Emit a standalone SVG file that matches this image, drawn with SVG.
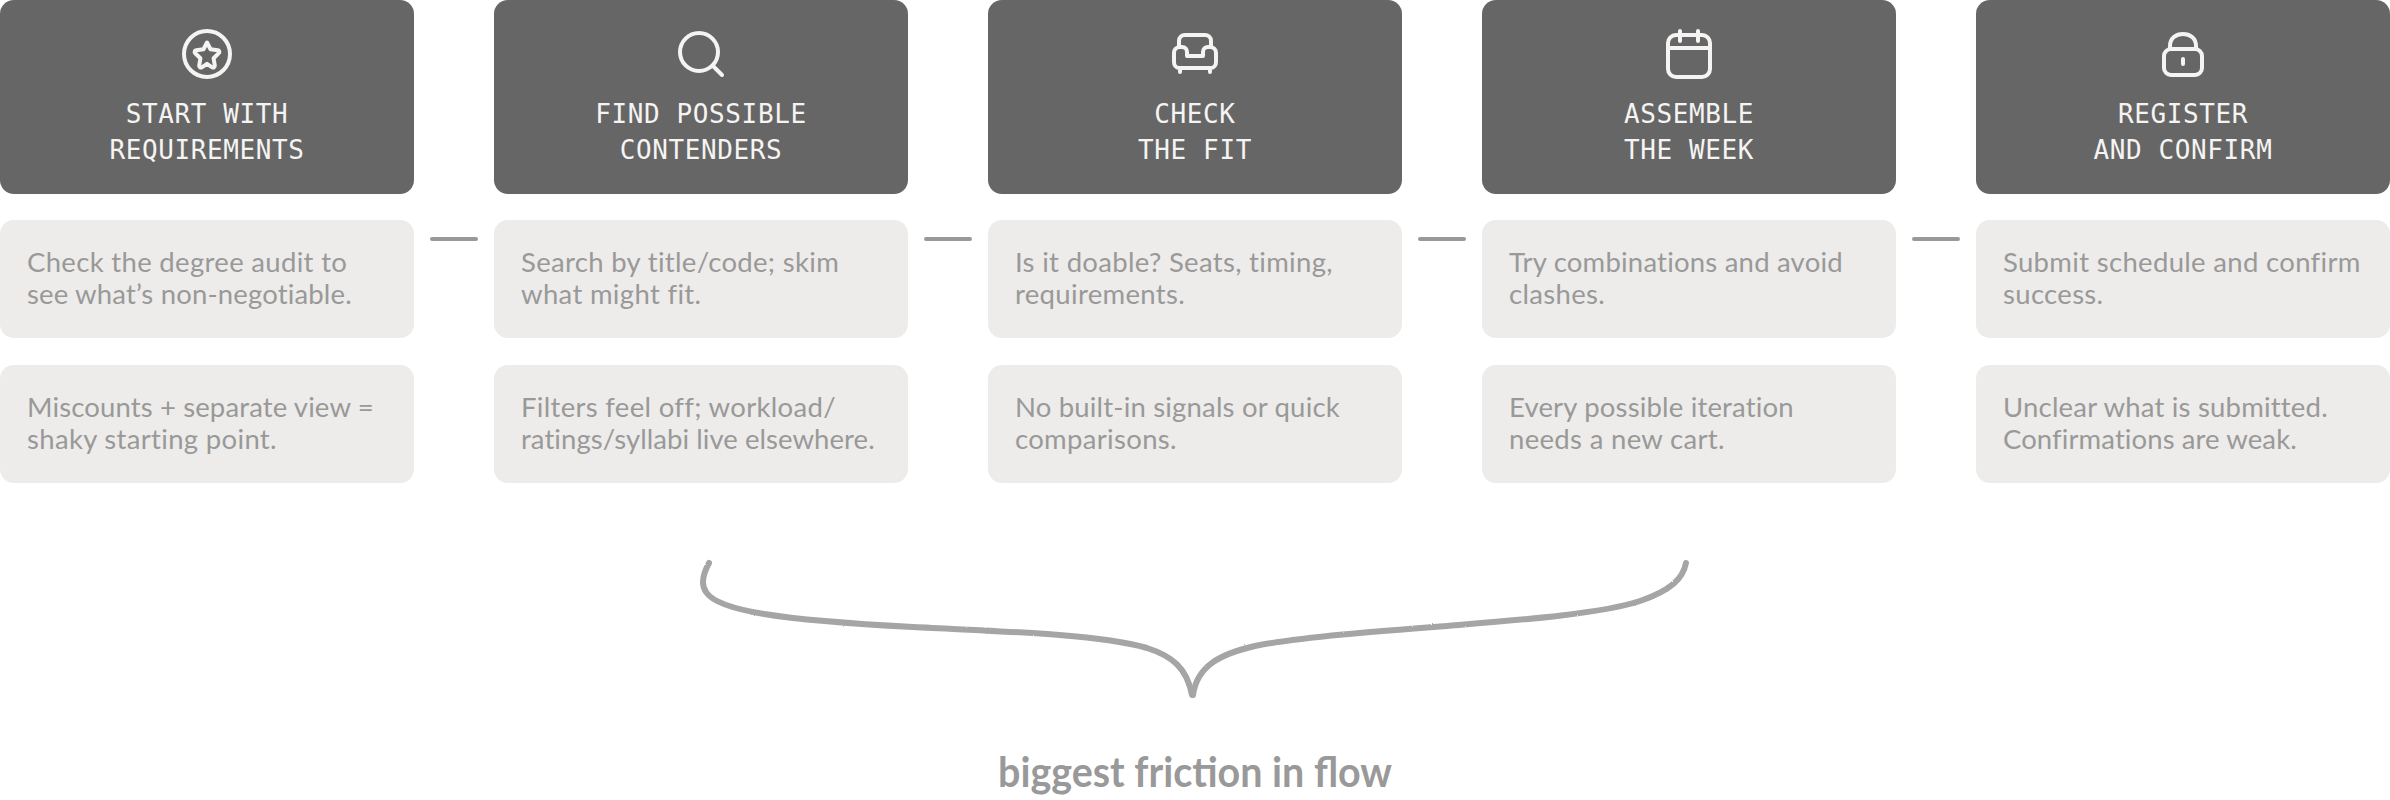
<svg xmlns="http://www.w3.org/2000/svg" width="2390" height="800" viewBox="0 0 2390 800">
<defs><filter id="rough" x="-5%" y="-10%" width="110%" height="120%"><feTurbulence type="fractalNoise" baseFrequency="0.9" numOctaves="2" seed="3"/><feDisplacementMap in="SourceGraphic" scale="1.6"/></filter></defs>
<style>
.h{fill:#666}
.c{fill:#edecea}
.t{font-family:"DejaVu Sans Mono",monospace;font-size:26px;letter-spacing:.6px;fill:#f5f4f2;text-anchor:middle}
.b{font-family:Lato,"Noto Sans",sans-serif;font-size:27.5px;letter-spacing:.32px;fill:#999}
.i{fill:none;stroke:#f5f4f2;stroke-width:4;stroke-linecap:round;stroke-linejoin:round}
.d{fill:none;stroke:#999;stroke-width:4;stroke-linecap:round}
.br{fill:none;stroke:#a5a5a5;stroke-width:6;stroke-linecap:round;stroke-linejoin:round;filter:url(#rough)}
.w{font-family:Lato,sans-serif;font-weight:700;font-size:42px;fill:#999;text-anchor:middle}
</style>
<g id="connectors">
<path class="d" d="M432 239H476"/><path class="d" d="M926 239H970"/><path class="d" d="M1420 239H1464"/><path class="d" d="M1914 239H1958"/>
</g>
<g id="step1">
<rect class="h" width="414" height="194" rx="14"/>
<circle class="i" cx="207" cy="54" r="23"/>
<path class="i" d="M207 42.500L210.500 49.200L217.800 50.300C219.500 50.600 219.800 52.200 218.800 53.200L213.600 58.300L214.800 65.500C215 67.200 213.500 68 212.200 67.300L207 63.900L201.800 67.300C200.500 68 199 67.200 199.200 65.500L200.400 58.300L195.200 53.200C194.200 52.200 194.500 50.600 196.200 50.300L203.500 49.200Z"/>
<text class="t" x="207" y="123">START WITH</text><text class="t" x="207" y="159">REQUIREMENTS</text>
<rect class="c" y="220" width="414" height="118" rx="14"/>
<text class="b" x="27" y="272">Check the degree audit to</text><text class="b" x="27" y="304" textLength="325">see what’s non-negotiable.</text>
<rect class="c" y="365" width="414" height="118" rx="14"/>
<text class="b" x="27" y="417" textLength="347">Miscounts + separate view =</text><text class="b" x="27" y="449">shaky starting point.</text>
</g>
<g id="step2">
<rect class="h" x="494" width="414" height="194" rx="14"/>
<circle class="i" cx="699" cy="52" r="19"/><path class="i" d="M713 66L722 75"/>
<text class="t" x="701" y="123">FIND POSSIBLE</text><text class="t" x="701" y="159">CONTENDERS</text>
<rect class="c" x="494" y="220" width="414" height="118" rx="14"/>
<text class="b" x="521" y="272">Search by title/code; skim</text><text class="b" x="521" y="304">what might fit.</text>
<rect class="c" x="494" y="365" width="414" height="118" rx="14"/>
<text class="b" x="521" y="417">Filters feel off; workload/</text><text class="b" x="521" y="449" textLength="354">ratings/syllabi live elsewhere.</text>
</g>
<g id="step3">
<rect class="h" x="988" width="414" height="194" rx="14"/>
<path class="i" d="M1179 47V41C1179 37 1182 35 1185 35H1205C1208 35 1211 37 1211 41V47M1187 56H1203V52C1203 49 1205 47 1208 47H1210C1214 47 1216 50 1216 53V62C1216 65 1214 68 1211 68H1179C1176 68 1174 65 1174 62V53C1174 50 1176 47 1180 47H1182C1185 47 1187 49 1187 52ZM1180 68V72M1210 68V72"/>
<text class="t" x="1195" y="123">CHECK</text><text class="t" x="1195" y="159">THE FIT</text>
<rect class="c" x="988" y="220" width="414" height="118" rx="14"/>
<text class="b" x="1015" y="272">Is it doable? Seats, timing,</text><text class="b" x="1015" y="304">requirements.</text>
<rect class="c" x="988" y="365" width="414" height="118" rx="14"/>
<text class="b" x="1015" y="417" textLength="325">No built-in signals or quick</text><text class="b" x="1015" y="449">comparisons.</text>
</g>
<g id="step4">
<rect class="h" x="1482" width="414" height="194" rx="14"/>
<rect class="i" x="1668" y="35" width="42" height="42" rx="8"/><path class="i" d="M1668 48H1710M1680 31V41M1698 31V41"/>
<text class="t" x="1689" y="123">ASSEMBLE</text><text class="t" x="1689" y="159">THE WEEK</text>
<rect class="c" x="1482" y="220" width="414" height="118" rx="14"/>
<text class="b" x="1509" y="272" textLength="334">Try combinations and avoid</text><text class="b" x="1509" y="304">clashes.</text>
<rect class="c" x="1482" y="365" width="414" height="118" rx="14"/>
<text class="b" x="1509" y="417" textLength="285">Every possible iteration</text><text class="b" x="1509" y="449">needs a new cart.</text>
</g>
<g id="step5">
<rect class="h" x="1976" width="414" height="194" rx="14"/>
<rect class="i" x="2164" y="49" width="38" height="26" rx="7"/><path class="i" d="M2170 49V46C2170 38 2176 34 2183 34C2190 34 2196 38 2196 46V49M2183 59V64"/>
<text class="t" x="2183" y="123">REGISTER</text><text class="t" x="2183" y="159">AND CONFIRM</text>
<rect class="c" x="1976" y="220" width="414" height="118" rx="14"/>
<text class="b" x="2003" y="272">Submit schedule and confirm</text><text class="b" x="2003" y="304">success.</text>
<rect class="c" x="1976" y="365" width="414" height="118" rx="14"/>
<text class="b" x="2003" y="417" textLength="325">Unclear what is submitted.</text><text class="b" x="2003" y="449" textLength="294">Confirmations are weak.</text>
</g>
<g id="brace">
<path class="br" d="M709 563C703 574 701 585 706 592C718 611 780 620 913 627C1020 632 1100 635 1147 648C1172 656 1187 668 1192 695"/>
<path class="br" d="M1686 563C1683 578 1672 590 1640 601C1600 614 1520 620 1447 626C1380 631 1300 637 1255 646C1220 654 1197 666 1193 695"/>
</g>
<text id="brace-label" class="w" x="1195" y="787" textLength="394" lengthAdjust="spacingAndGlyphs">biggest friction in flow</text>
</svg>
